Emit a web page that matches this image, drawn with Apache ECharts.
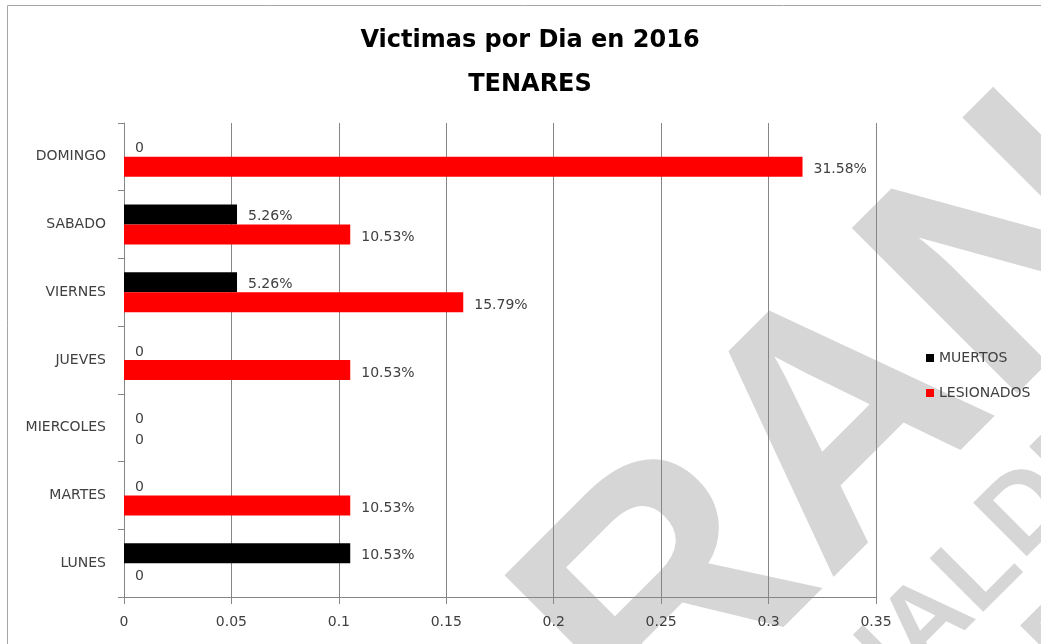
<!DOCTYPE html>
<html>
<head>
<meta charset="utf-8">
<script src="https://cdn.jsdelivr.net/npm/echarts@6/dist/echarts.min.js"></script>
<style>
html,body{margin:0;padding:0;background:#fff;}
#chart{width:1041px;height:644px;}
</style>
</head>
<body>
<div id="chart"></div>
<script>
const categories = ['LUNES', 'MARTES', 'MIERCOLES', 'JUEVES', 'VIERNES', 'SABADO', 'DOMINGO'];
const muertos = [0.1053, 0, 0, 0, 0.0526, 0.0526, 0];
const lesionados = [0, 0.1053, 0, 0.1053, 0.1579, 0.1053, 0.3158];
const seriesNames = ['MUERTOS', 'LESIONADOS'];
const xTicks = [0, 0.05, 0.1, 0.15, 0.2, 0.25, 0.3, 0.35];
const titleLines = ['Victimas por Dia en 2016', 'TENARES'];

const FONT = 'DejaVu Sans';
const LABEL_COLOR = '#404040';
const GRID_COLOR = '#868686';
const WM = '#d6d6d6';
const rot = 45 * Math.PI / 180;

function fmtLabel(p) {
  return p.value === 0 ? '0' : (p.value * 100).toFixed(2) + '%';
}

const chart = echarts.init(document.getElementById('chart'), null, {renderer: 'canvas'});
chart.setOption({
  backgroundColor: '#ffffff',
  animation: false,
  graphic: [
    {type: 'rect', z: -20, shape: {x: 7.5, y: 5.5, width: 1100, height: 700},
     style: {fill: 'none', stroke: '#a6a6a6', lineWidth: 1}},
    {type: 'text', z: -10, x: 848, y: 430, rotation: rot,
     style: {text: 'RAN', font: 'bold 340px "Liberation Sans"', fill: WM,
             align: 'center', verticalAlign: 'middle', textAlign: 'center', textVerticalAlign: 'middle'}},
    {type: 'text', z: -10, x: 1004, y: 548, rotation: rot,
     style: {text: 'NACIONAL', font: 'bold 110px "Liberation Sans"', fill: WM,
             align: 'right', verticalAlign: 'middle', textAlign: 'right', textVerticalAlign: 'middle'}},
    {type: 'text', z: -10, x: 1000, y: 540, rotation: rot,
     style: {text: 'DE', font: 'bold 110px "Liberation Sans"', fill: WM,
             align: 'left', verticalAlign: 'middle', textAlign: 'left', textVerticalAlign: 'middle'}},
    {type: 'text', z: -10, x: 1045, y: 665, rotation: rot,
     style: {text: 'RE', font: 'bold 110px "Liberation Sans"', fill: WM,
             align: 'center', verticalAlign: 'middle', textAlign: 'center', textVerticalAlign: 'middle'}}
  ],
  title: {
    text: titleLines.join('\n'),
    left: 525,
    top: 14,
    textAlign: 'center',
    textStyle: {fontFamily: FONT, fontWeight: 'bold', fontSize: 24, color: '#000', lineHeight: 44}
  },
  legend: {
    data: seriesNames,
    orient: 'vertical',
    left: 921,
    top: 346,
    itemWidth: 8,
    itemHeight: 8,
    itemGap: 21,
    icon: 'rect',
    textStyle: {fontFamily: FONT, fontSize: 14, color: LABEL_COLOR}
  },
  grid: {left: 124, top: 123, right: 165, bottom: 47, containLabel: false},
  xAxis: {
    type: 'value',
    min: 0,
    max: 0.35,
    interval: 0.05,
    axisLine: {show: true, lineStyle: {color: GRID_COLOR, width: 1}},
    axisTick: {show: true, length: 7, lineStyle: {color: GRID_COLOR}},
    splitLine: {show: true, lineStyle: {color: GRID_COLOR, width: 1}},
    axisLabel: {
      margin: 18,
      fontFamily: FONT, fontSize: 14, color: LABEL_COLOR,
      formatter: function (v) {
        const t = xTicks.find(function (x) { return Math.abs(x - v) < 1e-9; });
        return String(t !== undefined ? t : +v.toFixed(2));
      }
    }
  },
  yAxis: {
    type: 'category',
    data: categories,
    axisLine: {show: true, lineStyle: {color: GRID_COLOR, width: 1}},
    axisTick: {show: true, length: 6, lineStyle: {color: GRID_COLOR}},
    axisLabel: {margin: 18, fontFamily: FONT, fontSize: 14, color: LABEL_COLOR, padding: [4, 0, 0, 0]}
  },
  series: [
    {
      name: seriesNames[0], type: 'bar', data: muertos,
      barWidth: 20, barGap: '0%',
      itemStyle: {color: '#000000'},
      label: {show: true, position: 'right', distance: 11, formatter: fmtLabel,
              fontFamily: FONT, fontSize: 14, color: LABEL_COLOR, offset: [0, 2]}
    },
    {
      name: seriesNames[1], type: 'bar', data: lesionados,
      barWidth: 20, barGap: '0%',
      itemStyle: {color: '#ff0000'},
      label: {show: true, position: 'right', distance: 11, formatter: fmtLabel,
              fontFamily: FONT, fontSize: 14, color: LABEL_COLOR, offset: [0, 3]}
    }
  ]
});
</script>
</body>
</html>
